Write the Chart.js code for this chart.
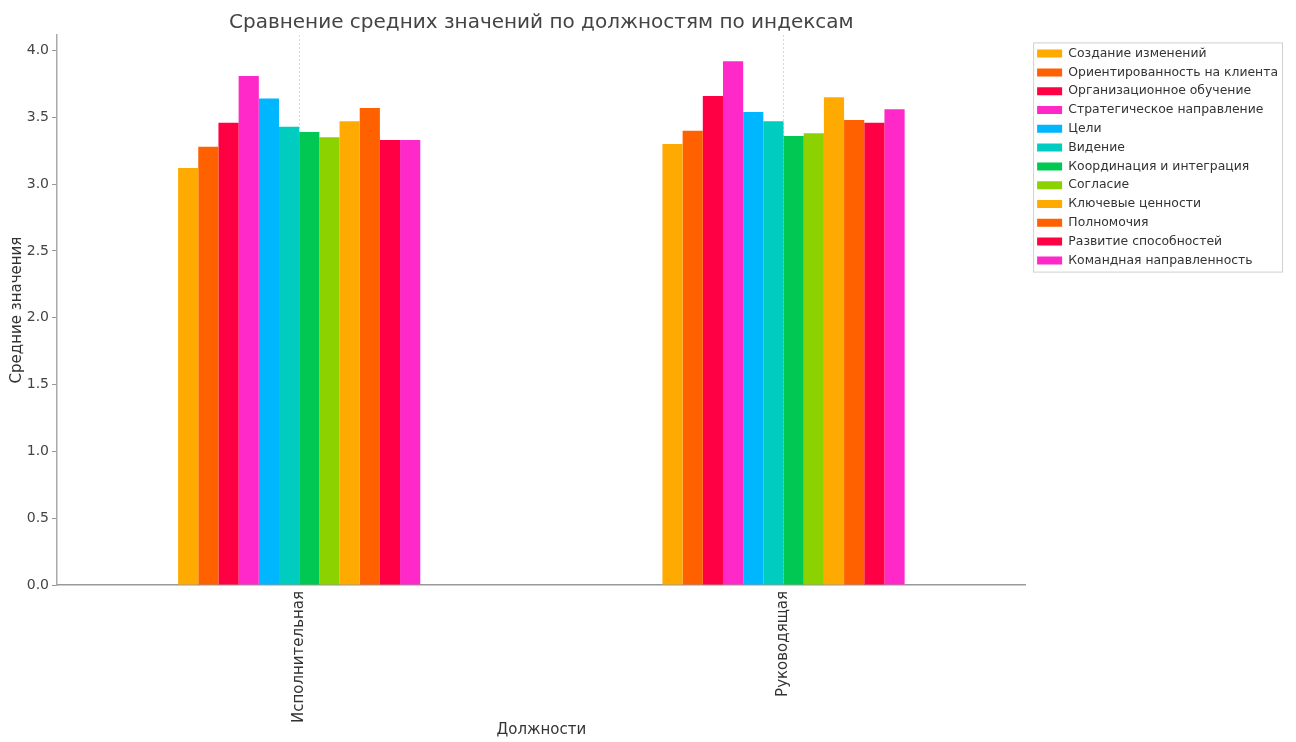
<!DOCTYPE html>
<html>
<head>
<meta charset="utf-8">
<script src="https://cdn.jsdelivr.net/npm/chart.js@4.4.1/dist/chart.umd.min.js"></script>
<style>
  html, body { margin: 0; padding: 0; background: #fff; }
</style>
</head>
<body>
<canvas id="chart" width="1296" height="742"></canvas>
<script>
/* global Chart */

// positions (x categories)
var positions = ["Исполнительная", "Руководящая"];

// indices (one dataset each)
var indexNames = [
    "Создание изменений",
    "Ориентированность на клиента",
    "Организационное обучение",
    "Стратегическое направление",
    "Цели",
    "Видение",
    "Координация и интеграция",
    "Согласие",
    "Ключевые ценности",
    "Полномочия",
    "Развитие способностей",
    "Командная направленность"
];

var executiveValues = [3.12, 3.28, 3.46, 3.81, 3.64, 3.43, 3.39, 3.35, 3.47, 3.57, 3.33, 3.33];
var managerValues = [3.30, 3.40, 3.66, 3.92, 3.54, 3.47, 3.36, 3.38, 3.65, 3.48, 3.46, 3.56];

var yTicks = [0, 0.5, 1.0, 1.5, 2.0, 2.5, 3.0, 3.5, 4.0];

var barColors = [
    "#ffaa00", "#ff6000", "#ff0045", "#ff28c8",
    "#00b6ff", "#00cdbf", "#00c853", "#8cd200",
    "#ffaa00", "#ff6000", "#ff0045", "#ff28c8"
];

Chart.defaults.font.family = "'DejaVu Sans', sans-serif";
Chart.defaults.color = "#333";

var datasets = [];
for (var i = 0; i < indexNames.length; i++) {
    datasets.push({
        label: indexNames[i],
        data: [executiveValues[i], managerValues[i]],
        backgroundColor: barColors[i],
        borderWidth: 0,
        categoryPercentage: 0.5,
        barPercentage: 1.0
    });
}

// frame around the legend
var legendFrame = {
    id: "legendFrame",
    afterDraw: function(chart) {
        var boxes = chart.legend.legendHitBoxes;
        if (!boxes || !boxes.length) return;
        var ctx = chart.ctx;
        var w = 0;
        for (var i = 0; i < boxes.length; i++) w = Math.max(w, boxes[i].width);
        var last = boxes[boxes.length - 1];
        var x = boxes[0].left - 4;
        var y = boxes[0].top - 5;
        ctx.save();
        ctx.strokeStyle = "#d0d0d0";
        ctx.lineWidth = 1;
        ctx.strokeRect(x + 0.5, y + 0.5, w + 8, last.top + last.height + 5 - y);
        ctx.restore();
    }
};

new Chart(document.getElementById("chart"), {
    type: "bar",
    data: {
        labels: positions,
        datasets: datasets
    },
    options: {
        responsive: false,
        animation: false,
        layout: { padding: { top: 6, right: 8, bottom: 0, left: 4 } },
        plugins: {
            title: {
                display: true,
                text: "Сравнение средних значений по должностям по индексам",
                fullSize: false,
                color: "#444",
                font: { size: 20, weight: "normal" },
                padding: { top: 5, bottom: 0 }
            },
            legend: {
                position: "right",
                align: "start",
                title: { display: true, text: "", font: { size: 10 }, padding: { top: 0, bottom: 23 } },
                labels: {
                    boxWidth: 25,
                    boxHeight: 8,
                    padding: 6.4,
                    color: "#333",
                    font: { size: 12.4 }
                }
            },
            tooltip: { enabled: false }
        },
        scales: {
            x: {
                offset: true,
                grid: { offset: false, color: "#d8d8d8", lineWidth: 1, drawTicks: false },
                border: { display: true, color: "#999", width: 1.5, dash: [2, 2] },
                ticks: { minRotation: 90, maxRotation: 90, color: "#333", font: { size: 15 }, padding: 6 },
                title: { display: true, text: "Должности", color: "#333", font: { size: 15 }, padding: { top: 4, bottom: 3 } },
                afterFit: function(scale) { scale.height = 157; }
            },
            y: {
                min: 0,
                max: 4.116,
                ticks: {
                    stepSize: 0.5,
                    color: "#444",
                    font: { size: 14 },
                    padding: 3,
                    callback: function(v) { return v.toFixed(1); }
                },
                afterBuildTicks: function(scale) {
                    scale.ticks = yTicks.map(function(v) { return { value: v }; });
                },
                grid: { drawOnChartArea: false, drawTicks: true, tickLength: 5, color: "#999" },
                border: { display: true, color: "#aaa", width: 1.5 },
                title: { display: true, text: "Средние значения", color: "#333", font: { size: 15 }, padding: { top: 4, bottom: 4 } },
                afterFit: function(scale) { scale.width = 53; }
            },
            // hidden spacer between plot and legend
            gap: {
                type: "linear",
                position: "right",
                display: false,
                afterFit: function(scale) { scale.width = 5; }
            }
        }
    },
    plugins: [legendFrame]
});
</script>
</body>
</html>
